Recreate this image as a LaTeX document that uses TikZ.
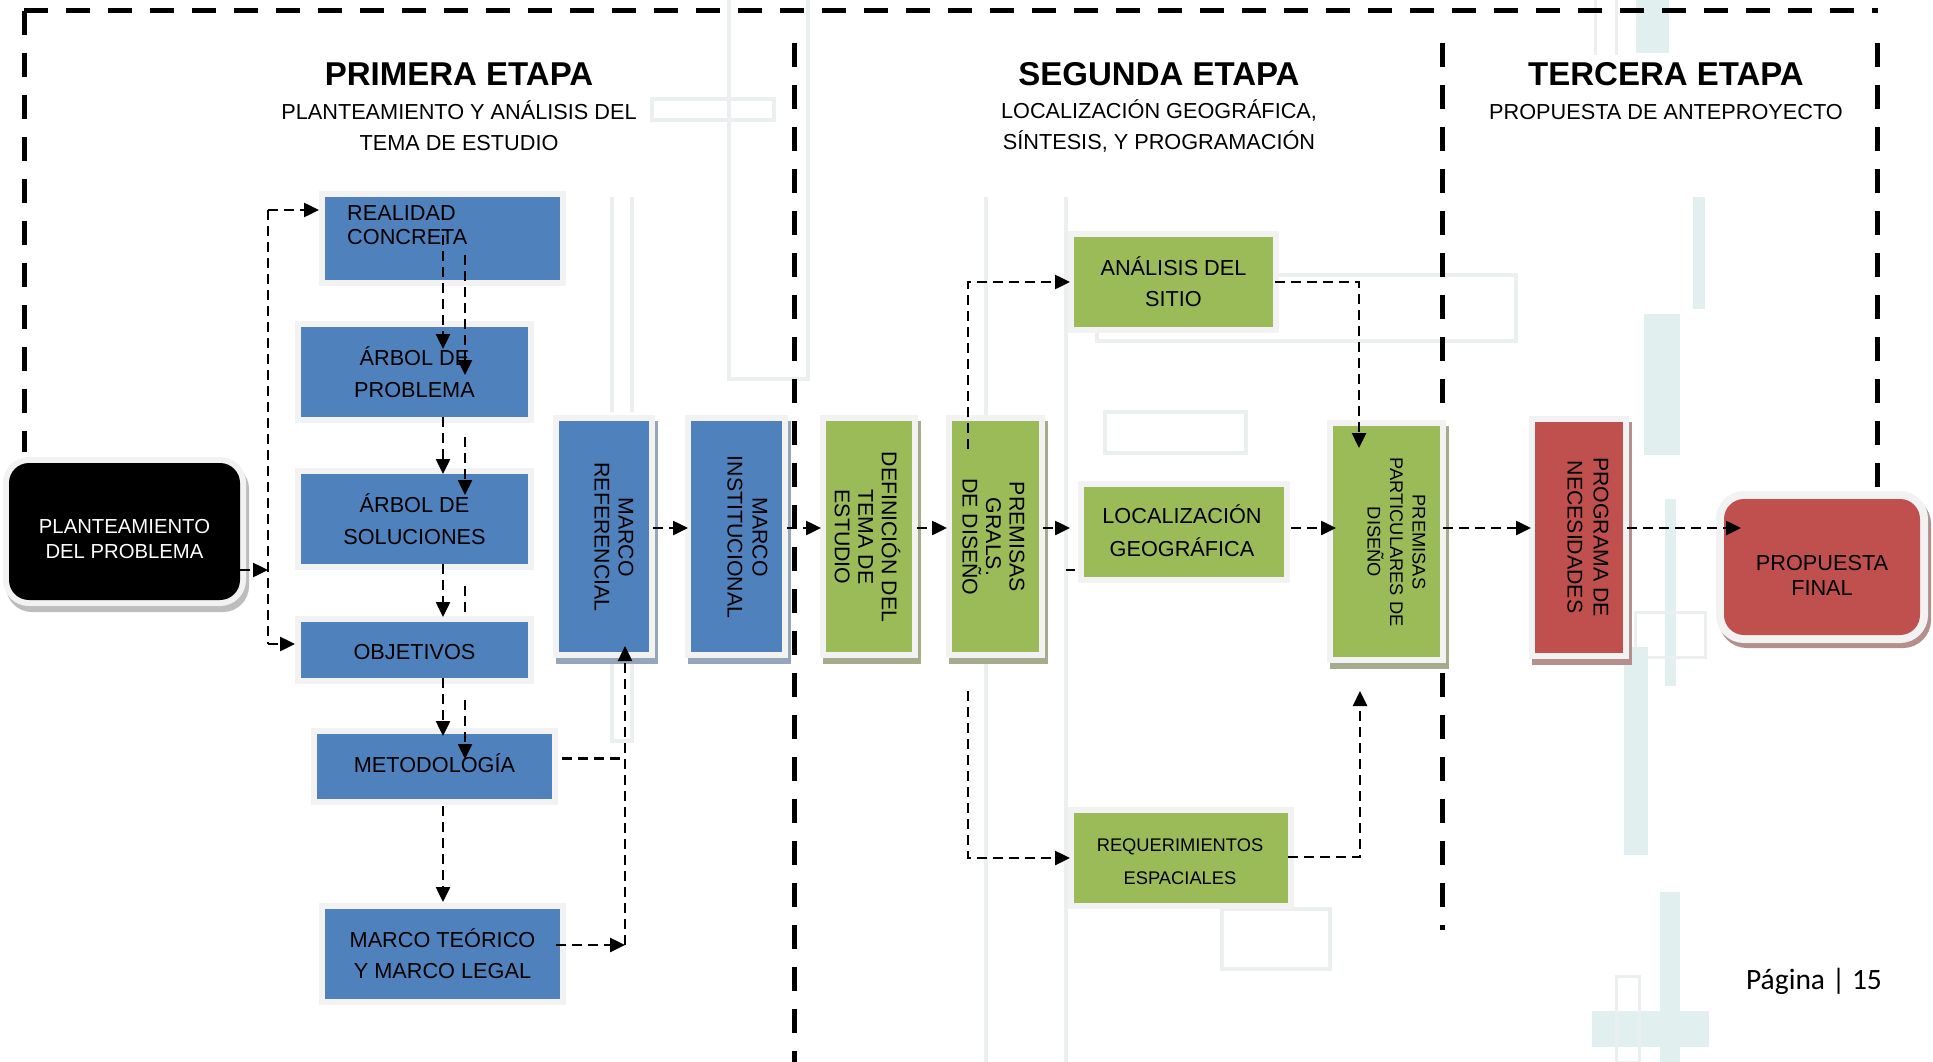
\documentclass[tikz,border=0pt]{standalone}
\usepackage{fontspec}
\setmainfont{Liberation Sans}
\newfontfamily\pagefont{Carlito}
\usetikzlibrary{arrows.meta}
\definecolor{oblue}{HTML}{4F81BD}
\definecolor{ogreen}{HTML}{9BBB59}
\definecolor{ored}{HTML}{C0504D}
\definecolor{frm}{HTML}{F2F2F2}
\definecolor{shb}{HTML}{95A5BC}
\definecolor{shg}{HTML}{A5AC8E}
\definecolor{shr}{HTML}{B38F8E}
\definecolor{shk}{HTML}{BDBDBD}
\definecolor{fg}{HTML}{ECEFEF}
\definecolor{fc}{HTML}{E1EFEF}
\begin{document}
\begin{tikzpicture}[x=1pt,y=-1pt,
  bx/.style 2 args={minimum width=#1, minimum height=#2, inner sep=0pt, outer sep=0pt,
     preaction={draw=frm, line width=12pt}},
  shd/.style={preaction={draw=#1, line width=12pt, transform canvas={xshift=3pt,yshift=-6pt}}},
  tx/.style={font=\fontsize{21.7}{32}\selectfont, align=center, inner sep=0pt},
  vt/.style={font=\fontsize{21.3}{24}\selectfont, align=center, inner sep=0pt, rotate=-90},
  hd/.style={font=\fontsize{33}{38}\bfseries\selectfont, inner sep=0pt},
  sub/.style={font=\fontsize{21.7}{31}\selectfont, align=center, inner sep=0pt},
  arr/.style={line width=2.5pt, dash pattern=on 10pt off 6pt, -{Triangle[length=15pt,width=14pt]}},
  dl/.style={line width=2.5pt, dash pattern=on 10pt off 6pt},
  border/.style={line width=5pt, dash pattern=on 24pt off 18pt},
  faint/.style={draw=fg, line width=4pt},
  cy/.style={fill=fc}
]
\useasboundingbox (0,0) rectangle (1933,1062);

% ---- faint background decoration ----
\draw[faint] (729,-5) -- (729,379) -- (808,379) -- (808,-5);
\draw[faint] (652,99) rectangle (774,120);
\draw[faint] (612,197) -- (612,412);
\draw[faint] (632,197) -- (632,412);
\draw[faint] (612,660) -- (612,741) -- (632,741) -- (632,660);
\draw[faint] (986,197) -- (986,1062);
\draw[faint] (1066,197) -- (1066,1062);
\draw[faint] (1097,275) rectangle (1516,341);
\draw[faint] (1105,412) rectangle (1246,453);
\draw[faint] (1222,909) rectangle (1330,969);
\fill[cy] (1636,0) rectangle (1669,53);
\draw[faint, line width=3pt] (1595,0) -- (1595,55);
\draw[faint, line width=3pt] (1616,0) -- (1616,55);
\fill[cy] (1693,197) rectangle (1705,309);
\fill[cy] (1644,314) rectangle (1680,455);
\fill[cy] (1665,499) rectangle (1676,686);
\draw[faint, line width=3pt] (1635,612) rectangle (1705,657);
\fill[cy] (1624,647) rectangle (1648,855);
\fill[cy] (1660,892) rectangle (1680,1062);
\fill[cy] (1592,1011) rectangle (1709,1047);
\draw[faint, line width=3pt] (1616,976) rectangle (1639,1062);

% ---- stage borders ----
\draw[border] (24,11) -- (24,452);
\draw[border] (24,11) -- (1878,11);
\draw[border] (794,43) -- (794,1062);
\draw[border] (1442,43) -- (1442,930);
\draw[border] (1877,43) -- (1877,510);

% ---- headings ----
\node[hd] (h1) at (459,74) {PRIMERA ETAPA};
\node[sub] (s1) at (459,125.5) {PLANTEAMIENTO Y ANÁLISIS DEL\\TEMA DE ESTUDIO};
\node[hd] (h2) at (1159,74) {SEGUNDA ETAPA};
\node[sub] (s2) at (1159,126) {LOCALIZACIÓN GEOGRÁFICA,\\SÍNTESIS, Y PROGRAMACIÓN};
\node[hd] (h3) at (1666,74) {TERCERA ETAPA};
\node[sub] (s3) at (1666,112) {PROPUESTA DE ANTEPROYECTO};

% ---- first column ----
\node[shd=shk, bx={231pt}{137pt}, fill=black, rounded corners=20pt] (plant) at (124.5,531.5) {};
\node[tx, text=white, font=\fontsize{20.3}{25}\selectfont] (plantt) at (124.5,539.5) {PLANTEAMIENTO\\DEL PROBLEMA};

\node[bx={235pt}{83pt}, fill=oblue] (realidad) at (442.5,238.5) {};
\node[tx, anchor=north west, align=left, font=\fontsize{21.7}{24}\selectfont] (realidadt) at (347,205.5) {REALIDAD\\CONCRETA};
\node[bx={227pt}{90pt}, fill=oblue] (arbolp) at (414.5,372) {};
\node[tx] (arbolpt) at (414.5,372) {ÁRBOL DE\\PROBLEMA};
\node[bx={227pt}{90pt}, fill=oblue] (arbols) at (414.5,519) {};
\node[tx] (arbolst) at (414.5,519.5) {ÁRBOL DE\\SOLUCIONES};
\node[bx={227pt}{56pt}, fill=oblue] (objetivos) at (414.5,650) {};
\node[tx] (objetivost) at (414.5,652) {OBJETIVOS};
\node[bx={235pt}{65pt}, fill=oblue] (metodo) at (434.5,766.5) {};
\node[tx] (metodot) at (434.5,763) {METODOLOGÍA};
\node[bx={235pt}{90pt}, fill=oblue] (marcot) at (442.5,954) {};
\node[tx, font=\fontsize{21.7}{31}\selectfont] (marcott) at (442.5,953.5) {MARCO TEÓRICO\\Y MARCO LEGAL};

% ---- vertical boxes ----
\node[shd=shb, bx={90pt}{231pt}, fill=oblue] (ref) at (604,536.5) {};
\node[vt] (reft) at (614,537) {MARCO\\REFERENCIAL};
\node[shd=shb, bx={91pt}{231pt}, fill=oblue] (inst) at (736.5,536.5) {};
\node[vt, font=\fontsize{21.3}{25}\selectfont] (instt) at (747.5,537) {MARCO\\INSTITUCIONAL};
\node[shd=shg, bx={86pt}{231pt}, fill=ogreen] (def) at (869,536.5) {};
\node[vt, font=\fontsize{21.3}{23.5}\selectfont] (deft) at (867.5,537) {DEFINICIÓN DEL\\TEMA DE\\ESTUDIO};
\node[shd=shg, bx={87pt}{231pt}, fill=ogreen] (premg) at (995.5,536.5) {};
\node[vt, font=\fontsize{21.3}{23.5}\selectfont] (premgt) at (993.5,537) {PREMISAS\\GRALS.\\DE DISEÑO};

% ---- second stage ----
\node[bx={199pt}{90pt}, fill=ogreen] (analisis) at (1173.5,282) {};
\node[tx, font=\fontsize{21.7}{31}\selectfont] (analisist) at (1173.5,281.5) {ANÁLISIS DEL\\SITIO};
\node[bx={200pt}{90pt}, fill=ogreen] (loc) at (1184,532) {};
\node[tx, font=\fontsize{21.7}{33}\selectfont] (loct) at (1182,530.5) {LOCALIZACIÓN\\GEOGRÁFICA};
\node[bx={214pt}{90pt}, fill=ogreen] (req) at (1181,858) {};
\node[tx, font=\fontsize{18.3}{33}\selectfont] (reqt) at (1180,861.5) {REQUERIMIENTOS\\ESPACIALES};
\node[shd=shg, bx={107pt}{231pt}, fill=ogreen] (premp) at (1386.5,541.5) {};
\node[vt, font=\fontsize{18.3}{22.5}\selectfont] (prempt) at (1396.5,542) {PREMISAS\\PARTICULARES DE\\DISEÑO};

% ---- third stage ----
\node[shd=shr, bx={88pt}{231pt}, fill=ored] (prog) at (1579,537.5) {};
\node[vt, font=\fontsize{21.3}{26}\selectfont] (progt) at (1588,537) {PROGRAMA DE\\NECESIDADES};
\node[minimum width=196pt, minimum height=136pt, inner sep=0pt, outer sep=0pt, rounded corners=20pt,
      preaction={draw=shr, line width=16pt, transform canvas={xshift=3pt,yshift=-5pt}},
      preaction={draw=frm, line width=16pt}, fill=ored] (prop) at (1822,567) {};
\node[tx, font=\fontsize{21.7}{25}\selectfont] (propt) at (1822,575.5) {PROPUESTA\\FINAL};

% ---- connectors, first column ----
\coordinate (busT) at (268,210);
\coordinate (busB) at (268,644);
\draw[dl] (busT) -- (busB);
\draw[arr] (busT) -- (319,210);
\draw[arr] (busB) -- (295,644);
\draw[arr] (240,570) -- (268,570);

\draw[arr] (443,235) -- (443,349);
\draw[arr] (465,255) -- (465,375);
\draw[arr] (443,417) -- (443,474);
\draw[arr] (465,437) -- (465,495);
\draw[arr] (443,564) -- (443,617);
\draw[dl] (465,586) -- (465,616);
\draw[arr] (443,678) -- (443,736);
\draw[arr] (465,700) -- (465,759);
\draw[arr] (443,806) -- (443,902);

\coordinate (refbus) at (625,945);
\draw[dl] (562,758.5) -- (625,758.5);
\draw[arr] (556,945) -- (refbus);
\draw[arr] (refbus) -- (625,646);

% ---- main chain ----
\draw[arr] (653,528) -- (688,528);
\draw[arr] (787,528) -- (821,528);
\draw[arr] (917,528) -- (947,528);
\draw[arr] (1043,528) -- (1070,528);
\draw[arr] (1291,528) -- (1336,528);
\draw[arr] (1443,528) -- (1531,528);
\draw[arr] (1627,528) -- (1741,528);

% ---- branches ----
\draw[arr] (968,449) -- (968,282) -- (1070,282);
\draw[arr] (968,691) -- (968,858) -- (1070,858);
\draw[arr] (1275,282) -- (1359,282) -- (1359,448);
\draw[arr] (1288,857) -- (1360,857) -- (1360,691);
\draw[line width=2.5pt] (1066,570) -- (1075,570);

% ---- page number ----
\node[inner sep=0pt, font=\pagefont\fontsize{29.5}{33}\selectfont] (pg) at (1814,981) {Página | 15};
\end{tikzpicture}
\end{document}
